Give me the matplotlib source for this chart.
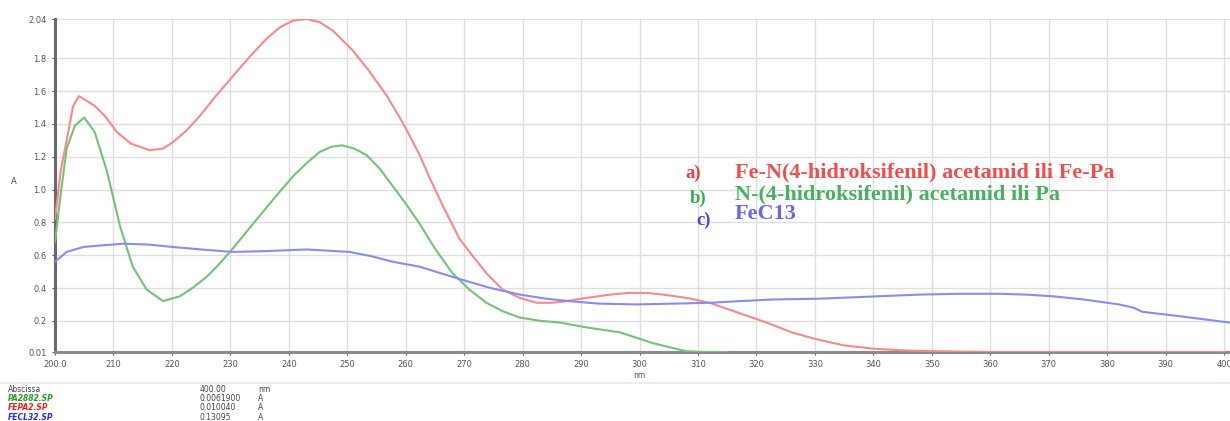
import matplotlib
matplotlib.use("Agg")
import matplotlib.pyplot as plt

# Fe-Pa (red)
fepa_x = [200.0, 201.0, 202.0, 203.1, 204.1, 205.5, 206.8, 208.5, 210.6, 213.0, 216.2, 218.5, 220.2,
          222.5, 224.8, 227.5, 230.4, 233.3, 236.2, 238.5, 240.7, 243.1, 245.3, 247.5, 250.9, 253.8,
          256.8, 259.6, 262.4, 264.1, 266.5, 269.2, 270.9, 273.8, 276.6, 279.5, 282.4, 285.0, 287.5,
          291.0, 295.0, 298.0, 301.2, 304.0, 308.0, 312.0, 316.0, 321.7, 326.0, 330.0, 335.0, 340.0,
          345.0, 350.0, 360.0, 370.0, 380.0, 390.0, 400.0]
fepa_y = [0.82, 1.12, 1.30, 1.51, 1.57, 1.54, 1.51, 1.45, 1.35, 1.28, 1.24, 1.25, 1.29,
          1.36, 1.45, 1.57, 1.69, 1.81, 1.92, 1.99, 2.03, 2.04, 2.02, 1.97, 1.85, 1.72,
          1.57, 1.40, 1.21, 1.07, 0.89, 0.70, 0.62, 0.49, 0.39, 0.34, 0.31, 0.31, 0.32,
          0.34, 0.36, 0.37, 0.37, 0.36, 0.34, 0.31, 0.26, 0.19, 0.13, 0.09, 0.05, 0.03,
          0.02, 0.015, 0.01, 0.01, 0.01, 0.01, 0.01]

# Pa (green)
pa_x = [200.0, 201.0, 202.0, 203.4, 205.0, 206.8, 208.9, 211.1, 213.3, 215.7, 218.5, 221.4, 223.5,
        226.0, 228.2, 230.4, 232.7, 235.0, 237.8, 240.7, 243.0, 245.3, 247.2, 249.1, 251.2, 253.3,
        255.5, 257.8, 260.1, 262.4, 265.0, 268.0, 270.9, 273.8, 276.5, 279.5, 283.0, 286.3, 290.9,
        296.6, 302.2, 305.0, 308.0, 310.8, 315.0]
pa_y = [0.68, 0.98, 1.25, 1.39, 1.44, 1.35, 1.11, 0.78, 0.53, 0.39, 0.32, 0.35, 0.40,
        0.47, 0.55, 0.64, 0.74, 0.84, 0.96, 1.08, 1.16, 1.23, 1.26, 1.27, 1.25, 1.21,
        1.13, 1.02, 0.91, 0.79, 0.64, 0.49, 0.39, 0.31, 0.26, 0.22, 0.20, 0.19, 0.16,
        0.13, 0.065, 0.04, 0.015, 0.01, 0.01]

# FeCl3 (blue)
fecl_x = [200.0, 202.0, 204.8, 208.0, 211.6, 216.0, 220.2, 225.0, 230.4, 236.0, 243.1, 250.4, 254.0,
          257.8, 262.4, 266.0, 269.7, 274.5, 279.5, 284.0, 288.0, 293.0, 299.5, 306.0, 312.0, 317.0,
          322.7, 330.8, 341.0, 348.0, 354.7, 361.5, 366.0, 370.6, 376.0, 382.0, 384.5, 386.0, 392.0,
          400.8]
fecl_y = [0.56, 0.62, 0.65, 0.66, 0.67, 0.665, 0.65, 0.635, 0.62, 0.625, 0.635, 0.62, 0.595,
          0.56, 0.53, 0.49, 0.45, 0.40, 0.36, 0.335, 0.32, 0.305, 0.30, 0.305, 0.31, 0.32,
          0.33, 0.335, 0.35, 0.36, 0.365, 0.365, 0.36, 0.35, 0.33, 0.30, 0.28, 0.255, 0.23,
          0.19]

x_ticks = [200, 210, 220, 230, 240, 250, 260, 270, 280, 290, 300, 310, 320, 330, 340, 350, 360,
           370, 380, 390, 400]
x_tick_labels = ["200.0"] + [str(v) for v in x_ticks[1:]]
y_ticks = [0.01, 0.2, 0.4, 0.6, 0.8, 1.0, 1.2, 1.4, 1.6, 1.8, 2.04]
y_tick_labels = ["0.01", "0.2", "0.4", "0.6", "0.8", "1.0", "1.2", "1.4", "1.6", "1.8", "2.04"]

legend_marks = ["a)", "b)", "c)"]
legend_texts = ["Fe-N(4-hidroksifenil) acetamid ili Fe-Pa",
                "N-(4-hidroksifenil) acetamid ili Pa",
                "FeC13"]

W, H = 1230, 421
fig = plt.figure(figsize=(W / 100, H / 100), dpi=100)
ax = fig.add_axes([55 / W, 1 - 352 / H, (1230 - 55) / W, (352 - 19) / H])

ax.plot(fepa_x, fepa_y, color="#f58a8a", lw=1.5, zorder=3)
ax.plot(pa_x, pa_y, color="#78c078", lw=1.5, zorder=3)
ax.plot(fecl_x, fecl_y, color="#8a8af5", lw=1.5, zorder=3)

ax.set_xlim(200, 401)
ax.set_ylim(0.01, 2.04)
ax.set_xticks(x_ticks)
ax.set_xticklabels(x_tick_labels)
ax.set_yticks(y_ticks)
ax.set_yticklabels(y_tick_labels)
ax.tick_params(labelsize=6, colors="#555555", length=2, width=0.8, pad=4)
ax.grid(True, color="#dedede", lw=1.0, zorder=0)
for s in ["top", "right"]:
    ax.spines[s].set_visible(False)
ax.spines["left"].set_color("#6a6a6a")
ax.spines["left"].set_linewidth(2.2)
ax.spines["bottom"].set_color("#8c8c8c")
ax.spines["bottom"].set_linewidth(2.2)
ax.set_ylabel("A", fontsize=6, color="#444444", rotation=0, labelpad=10)
ax.yaxis.set_label_coords(-0.035, 0.5)
ax.text(300, -0.135, "nm", fontsize=5.5, color="#555555", ha="center", va="center", clip_on=False)

# legend text
mark_colors = ["#e83c3c", "#3aaa4a", "#4848d8"]
text_colors = ["#f04e4e", "#48b060", "#6868e0"]
mark_x = [685, 690, 696]
mark_y = [173, 198, 220]
text_y = [172, 194, 214]
for m, t, mc, tc, mx, my, ty in zip(legend_marks, legend_texts, mark_colors, text_colors,
                                     mark_x, mark_y, text_y):
    fig.text(mx / W, 1 - my / H, m, fontsize=13.5, color=mc, family="Liberation Serif",
             fontweight="bold", va="center", ha="left")
    fig.text(735 / W, 1 - ty / H, t, fontsize=16, color=tc, family="Liberation Serif",
             fontweight="bold", va="center", ha="left")

# separator and readout table
fig.add_artist(plt.Line2D([0, 1], [1 - 383 / H, 1 - 383 / H], color="#efe9e4", lw=1.2))
rows = [("Abscissa", "#444444", "400.00", "nm"),
        ("PA2882.SP", "#2a9a2a", "0.0061900", "A"),
        ("FEPA2.SP", "#e02020", "0.010040", "A"),
        ("FECL32.SP", "#2030e0", "0.13095", "A")]
for i, (name, col, val, unit) in enumerate(rows):
    yy = 1 - (389 + i * 9.5) / H
    fig.text(8 / W, yy, name, fontsize=5.5, color=col, va="center", ha="left",
             fontweight="bold" if i else "normal", style="italic" if i else "normal")
    fig.text(200 / W, yy, val, fontsize=5.5, color="#444444", va="center", ha="left")
    fig.text(258 / W, yy, unit, fontsize=5.5, color="#444444", va="center", ha="left")

fig.savefig("out.png", dpi=100)
